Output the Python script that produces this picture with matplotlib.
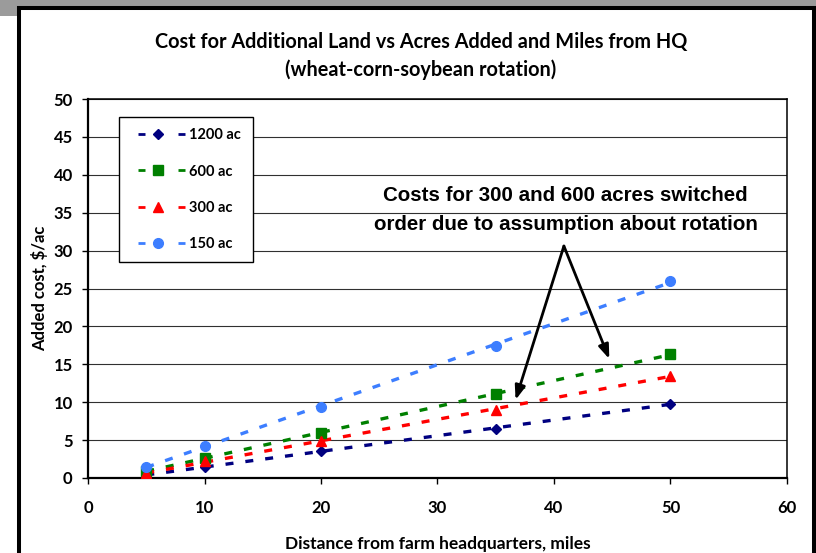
import numpy as np
import matplotlib
matplotlib.use("Agg")
import matplotlib.pyplot as plt
from matplotlib.lines import Line2D
from matplotlib.patches import Rectangle

# Distance from headquarters (miles) and added cost ($/ac) per farm size
miles = [5, 10, 20, 35, 50]
cost_1200 = [0.4, 1.5, 3.5, 6.5, 9.8]
cost_600 = [0.9, 2.6, 6.0, 11.1, 16.3]
cost_300 = [0.6, 2.2, 4.9, 9.0, 13.5]
cost_150 = [1.5, 4.2, 9.4, 17.4, 26.0]

labels = ["1200 ac", "600 ac", "300 ac", "150 ac"]
colors = ["#000080", "#008000", "#FF0000", "#3D7EFF"]
markers = ["D", "s", "^", "o"]
msizes = [5.2, 6.6, 7.4, 7.0]
series = [cost_1200, cost_600, cost_300, cost_150]

x_ticks = list(range(0, 61, 10))
y_ticks = list(range(0, 51, 5))

title_lines = ["Cost for Additional Land vs Acres Added and Miles from HQ",
               "(wheat-corn-soybean rotation)"]
note_lines = ["Costs for 300 and 600 acres switched",
              "order due to assumption about rotation"]

W, H, DPI = 816, 553, 100
fig = plt.figure(figsize=(W / DPI, H / DPI), dpi=DPI, facecolor="white")

# page chrome: grey band along the top and a heavy black frame
fig.patches.append(Rectangle((0, 1 - 6 / H), 1, 6 / H, transform=fig.transFigure,
                             facecolor="#9B9B9B", edgecolor="none", zorder=0))
fig.patches.append(Rectangle((0, 1 - 16 / H), 18 / W, 16 / H, transform=fig.transFigure,
                             facecolor="#9B9B9B", edgecolor="none", zorder=0))
fig.patches.append(Rectangle((19 / W, -0.05), (814 - 19) / W, 1.05 - 8 / H,
                             transform=fig.transFigure, facecolor="none",
                             edgecolor="black", lw=2.9, zorder=1, clip_on=False))

ax = fig.add_axes([88 / W, 1 - 478 / H, (787 - 88) / W, (478 - 99) / H])
ax.set_xlim(0, 60)
ax.set_ylim(0, 50)

CAL = ["Lato", "DejaVu Sans"]
ARIAL = ["Liberation Sans", "DejaVu Sans"]

# horizontal grid
ax.set_yticks(y_ticks)
ax.set_xticks(x_ticks)
ax.grid(axis="y", color="#303030", lw=0.8)
ax.set_axisbelow(True)

for s in ["top", "right"]:
    ax.spines[s].set_linewidth(1.1)
for s in ["left", "bottom"]:
    ax.spines[s].set_linewidth(1.6)
for s in ax.spines.values():
    s.set_color("black")

ax.tick_params(axis="x", direction="out", length=4, width=1, pad=11.5,
               labelsize=12)
ax.tick_params(axis="y", direction="out", length=4, width=1, pad=7,
               labelsize=12)
for lab in ax.get_xticklabels() + ax.get_yticklabels():
    lab.set_fontfamily(CAL)
    lab.set_fontweight("bold")

LW = 2.4
for vals, c, m, ms in zip(series, colors, markers, msizes):
    # linear trend line across the measured range
    coef = np.polyfit(miles, vals, 1)
    xs = np.array([miles[0], miles[-1]])
    ax.plot(xs, np.polyval(coef, xs), color=c, lw=LW, dashes=(2.4, 3.6),
            dash_capstyle="butt", zorder=3)
    ax.plot(miles, vals, linestyle="none", marker=m, ms=ms, color=c,
            mec=c, zorder=4)

# legend with dashed sample, marker, dashed sample
LLW = 2.0
def u(px):
    return px * 0.72 / LLW

handles = []
for c, m, ms in zip(colors, markers, msizes):
    handles.append(Line2D([], [], color=c, lw=LLW, marker=m, ms=ms, mec=c,
                          linestyle=(0, (1e-4, u(8), u(7), u(33), u(7), u(200)))))
leg = ax.legend(handles, labels, loc="upper left",
                bbox_to_anchor=(119 / W, 1 - 117 / H),
                bbox_transform=fig.transFigure, borderaxespad=0,
                fancybox=False, framealpha=1, edgecolor="black",
                borderpad=0.78, handlelength=3.77, handletextpad=0.27,
                labelspacing=1.52, prop=dict(family=CAL, weight="bold", size=10.5))
leg.get_frame().set_linewidth(1.0)

ax.set_xlabel("Distance from farm headquarters, miles", fontfamily=CAL,
              fontweight="bold", fontsize=12.5, labelpad=15)
ax.set_ylabel("Added cost, $/ac", fontfamily=CAL, fontweight="bold",
              fontsize=12, labelpad=4)

fig.text(421 / W, 1 - 42 / H, title_lines[0], ha="center", va="center",
         fontfamily=CAL, fontweight="bold", fontsize=14.3)
fig.text(421 / W, 1 - 70 / H, title_lines[1], ha="center", va="center",
         fontfamily=CAL, fontweight="bold", fontsize=14.3)

# annotation pointing at the 300 and 600 ac trend lines
for txt, yv in zip(note_lines, [37.3, 33.5]):
    ax.text(41.0, yv, txt, ha="center", va="center", fontfamily=ARIAL,
            fontweight="bold", fontsize=14.8, zorder=6)
apex = (40.85, 30.6)
for tip in [(36.7, 10.3), (44.75, 15.7)]:
    ax.annotate("", xy=tip, xytext=apex,
                arrowprops=dict(arrowstyle="-|>,head_length=0.6,head_width=0.22",
                                color="black", lw=2.0,
                                mutation_scale=14, shrinkA=0, shrinkB=0),
                zorder=6)

fig.savefig("out.png", dpi=DPI, facecolor="white")
